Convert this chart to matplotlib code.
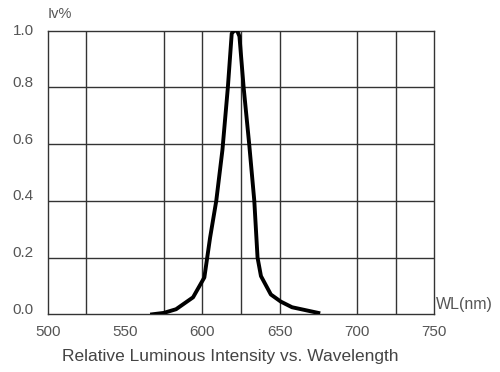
import matplotlib.pyplot as plt
from matplotlib.transforms import ScaledTranslation

plt.rcParams['font.family'] = ['Liberation Sans', 'DejaVu Sans']

# wavelength (nm) vs relative luminous intensity
wavelength = [567.5, 575, 583, 594, 601.3, 605, 609, 613, 616.5, 619, 620.5,
              622.5, 624, 626.7, 630.3, 633.6, 635.7, 637.9, 644.3, 650.7, 658, 675]
intensity = [0.0, 0.005, 0.018, 0.06, 0.13, 0.27, 0.40, 0.58, 0.80, 0.99, 1.0,
             1.0, 0.98, 0.80, 0.60, 0.40, 0.20, 0.135, 0.07, 0.045, 0.025, 0.005]

x_ticks = [500, 550, 600, 650, 700, 750]
y_ticks = [0.0, 0.2, 0.4, 0.6, 0.8, 1.0]
# vertical grid lines (the original skips 550 and 675)
x_grid = [525, 575, 600, 625, 650, 700, 725]

fig = plt.figure(figsize=(5, 3.72), dpi=100)
ax = fig.add_axes([0.0954, 0.155, 0.7732, 0.7625])

grid_col = '#333333'
txt_col = '#555555'
for g in x_grid:
    ax.axvline(g, color=grid_col, lw=1.0, zorder=1)
for g in y_ticks[1:-1]:
    ax.axhline(g, color=grid_col, lw=1.0, zorder=1)

ax.plot(wavelength, intensity, color='black', lw=2.8, solid_joinstyle='round', zorder=3)

ax.set_xlim(500, 750)
ax.set_ylim(0, 1.0)
ax.set_xticks(x_ticks)
ax.set_yticks(y_ticks)
ax.set_xticklabels([str(t) for t in x_ticks])
ax.set_yticklabels([f'{t:.1f}' for t in y_ticks])
ax.tick_params(length=0, labelsize=11, labelcolor=txt_col)
ax.tick_params(axis='y', pad=10)
ax.tick_params(axis='x', pad=8)
for s in ax.spines.values():
    s.set_color(grid_col)
    s.set_linewidth(1.0)

# y labels sit a little above their grid lines in the original
for lab, t in zip(ax.get_yticklabels(), y_ticks):
    dy = 1 / 100 if t == 1.0 else 6 / 100
    lab.set_transform(lab.get_transform() + ScaledTranslation(0, dy, fig.dpi_scale_trans))

ax.text(0.0, 1.035, 'Iv%', transform=ax.transAxes, fontsize=10.5,
        color=txt_col, ha='left', va='bottom')
ax.text(1.005, 0.035, 'WL(nm)', transform=ax.transAxes, fontsize=11.5,
        color=txt_col, ha='left', va='center')
fig.text(0.46, 0.043, 'Relative Luminous Intensity vs. Wavelength',
         fontsize=12.5, color='#444444', ha='center', va='center')

fig.savefig('out.png', dpi=100)
